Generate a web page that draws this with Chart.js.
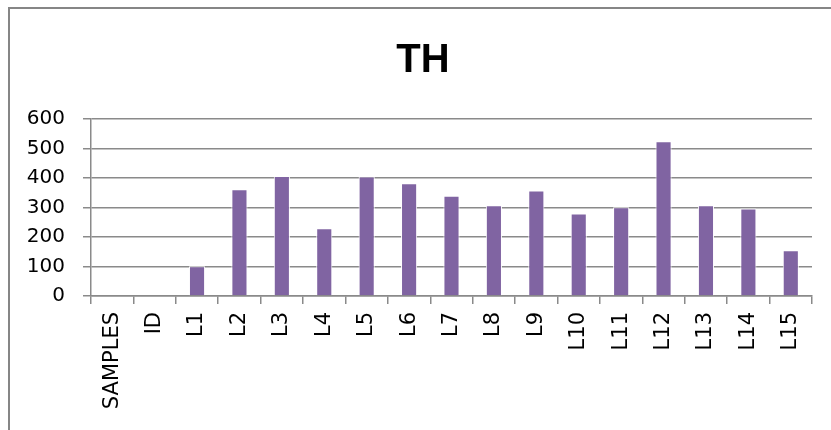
<!DOCTYPE html>
<html>
<head>
<meta charset="utf-8">
<script src="https://cdn.jsdelivr.net/npm/chart.js@4/dist/chart.umd.min.js"></script>
<style>
  html, body { margin: 0; padding: 0; background: #ffffff; overflow: hidden; }
  #frame { position: absolute; left: 8px; top: 7px; width: 900px; height: 500px;
           border-top: 2px solid #868686; border-left: 2px solid #868686; box-sizing: border-box; }
  #wrap { position: absolute; left: 0; top: 0; width: 831px; height: 430px; }
</style>
</head>
<body>
<div id="frame"></div>
<div id="wrap"><canvas id="c" width="831" height="430"></canvas></div>
<script>
const chartTitle = "TH";
const categories = ["SAMPLES", "ID", "L1", "L2", "L3", "L4", "L5", "L6", "L7", "L8", "L9", "L10", "L11", "L12", "L13", "L14", "L15"];
const thValues = [null, null, 101, 362, 407, 230, 405, 382, 340, 308, 358, 280, 301, 525, 308, 297, 155];
const yTicks = [0, 100, 200, 300, 400, 500, 600];

const gridGray = "#8a8a8a";

// Draws the chart title centred over the framed chart box (frame starts at x=8)
const titlePlugin = {
  id: "frameTitle",
  afterDraw(chart) {
    const ctx = chart.ctx;
    ctx.save();
    ctx.font = "bold 40px 'Liberation Sans'";
    ctx.fillStyle = "#000000";
    ctx.textAlign = "center";
    ctx.textBaseline = "alphabetic";
    ctx.fillText(chartTitle, 423, 72);
    ctx.restore();
  }
};

new Chart(document.getElementById("c"), {
  type: "bar",
  data: {
    labels: categories,
    datasets: [{
      label: chartTitle,
      data: thValues,
      backgroundColor: "#8064A2",
      borderColor: "rgba(255,255,255,0.95)",
      borderWidth: 1,
      categoryPercentage: 1,
      barPercentage: 0.38
    }]
  },
  plugins: [titlePlugin],
  options: {
    responsive: false,
    animation: false,
    events: [],
    layout: { padding: { left: 16, right: 19, top: 119, bottom: 0 } },
    plugins: {
      legend: { display: false },
      tooltip: { enabled: false },
      title: { display: false }
    },
    scales: {
      x: {
        grid: {
          display: true,
          drawOnChartArea: false,
          drawTicks: true,
          tickLength: 8,
          color: gridGray,
          lineWidth: 1.5,
          offset: true
        },
        border: { display: true, color: gridGray, width: 1.5 },
        ticks: {
          color: "#000000",
          font: { family: "DejaVu Sans", size: 21 },
          minRotation: 90,
          maxRotation: 90,
          padding: 8,
          autoSkip: false
        },
        afterFit: (scale) => { scale.height = 134; }
      },
      y: {
        min: 0,
        max: 600,
        afterBuildTicks: (scale) => { scale.ticks = yTicks.map(v => ({ value: v })); },
        grid: {
          color: gridGray,
          lineWidth: 1.5,
          drawTicks: true,
          tickLength: 8
        },
        border: { display: true, color: gridGray, width: 1.5 },
        ticks: {
          color: "#000000",
          font: { family: "DejaVu Sans", size: 20 },
          padding: 18
        },
        afterFit: (scale) => { scale.width = 75; }
      }
    }
  }
});
</script>
</body>
</html>
